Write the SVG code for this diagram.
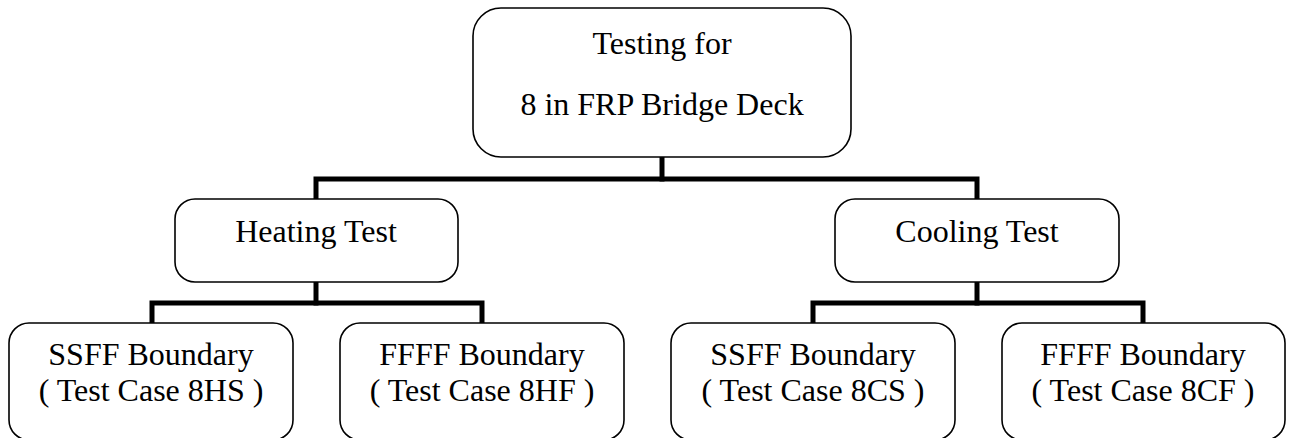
<svg xmlns="http://www.w3.org/2000/svg" width="1290" height="438" viewBox="0 0 1290 438">
<style>
.box{fill:#fff;stroke:#000;stroke-width:1.6}
.t{font-family:'Liberation Serif','DejaVu Serif','Times New Roman',serif;font-size:32px;fill:#000;text-anchor:middle}
.c{fill:none;stroke:#000;stroke-width:5;stroke-linejoin:miter;stroke-linecap:square}
</style>
<rect width="1290" height="438" fill="#fff"/>
<g id="connectors">
<path class="c" d="M662,158 V179"/>
<path class="c" d="M316,198 V179 H977 V198"/>
<path class="c" d="M316,283 V303"/>
<path class="c" d="M152,322 V303 H482 V322"/>
<path class="c" d="M977,283 V303"/>
<path class="c" d="M813,322 V303 H1143 V322"/>
</g>
<g id="root">
<rect class="box" x="473" y="8" width="378" height="149" rx="28"/>
<text class="t" x="662" y="54" font-family="Liberation Serif, DejaVu Serif, serif">Testing for</text>
<text class="t" x="662" y="115" font-family="Liberation Serif, DejaVu Serif, serif">8 in FRP Bridge Deck</text>
</g>
<g id="heating">
<rect class="box" x="175" y="199" width="283" height="83" rx="20"/>
<text class="t" x="316" y="242">Heating Test</text>
</g>
<g id="cooling">
<rect class="box" x="835" y="199" width="284" height="83" rx="20"/>
<text class="t" x="977" y="242">Cooling Test</text>
</g>
<g id="hs">
<rect class="box" x="9" y="323" width="284" height="117" rx="20"/>
<text class="t" x="151" y="365">SSFF Boundary</text>
<text class="t" x="151" y="401">( Test Case 8HS )</text>
</g>
<g id="hf">
<rect class="box" x="340" y="323" width="284" height="117" rx="20"/>
<text class="t" x="482" y="365">FFFF Boundary</text>
<text class="t" x="482" y="401">( Test Case 8HF )</text>
</g>
<g id="cs">
<rect class="box" x="671" y="323" width="284" height="117" rx="20"/>
<text class="t" x="813" y="365">SSFF Boundary</text>
<text class="t" x="813" y="401">( Test Case 8CS )</text>
</g>
<g id="cf">
<rect class="box" x="1002" y="323" width="283" height="117" rx="20"/>
<text class="t" x="1143" y="365">FFFF Boundary</text>
<text class="t" x="1143" y="401">( Test Case 8CF )</text>
</g>
</svg>
